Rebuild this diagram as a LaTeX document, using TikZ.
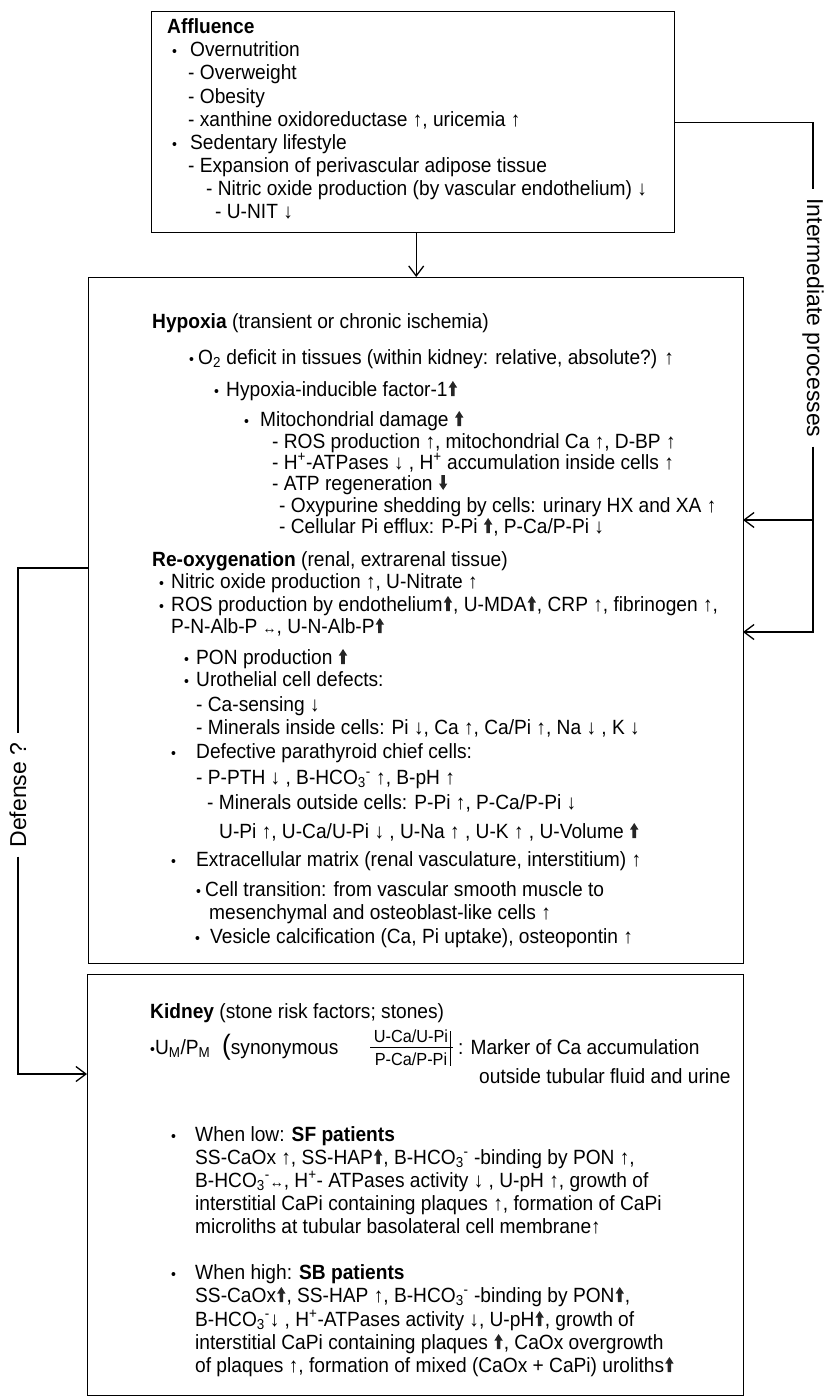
\documentclass[tikz,border=0pt]{standalone}
\usepackage{fontspec}
\setmainfont[FakeStretch=0.93]{Liberation Sans}
\newfontfamily\sidefont{Liberation Sans}
\usepackage{tikz}
\usetikzlibrary{arrows.meta,positioning}

% text sizes
\newcommand{\fs}{\fontsize{20.6}{23}\selectfont}
\newcommand{\sidefs}{\sidefont\fontsize{23}{25}\selectfont}
% small bullet with fixed gap to the text
\newcommand{\bul}{{\fontsize{15}{15}\selectfont\textbullet}}
\newcommand{\bl}[1]{\makebox[#1pt][l]{\bul}}
% thick block arrows
\newcommand{\bup}{\hspace{1pt}\tikz[x=1pt,y=1pt,baseline=0pt]{\fill[black!85] (-1.8,0) rectangle (1.8,9) (-4.2,8.5) -- (0,15) -- (4.2,8.5) -- cycle;}\hspace{1pt}}
\newcommand{\bdown}{\hspace{1pt}\tikz[x=1pt,y=1pt,baseline=0pt]{\fill[black!85] (-1.8,15) rectangle (1.8,6) (-4.2,6.5) -- (0,0) -- (4.2,6.5) -- cycle;}\hspace{1pt}}
\newcommand{\sar}{{\fontsize{15}{15}\selectfont ↔}}
\newcommand{\hco}{HCO\textsubscript{3}\textsuperscript{-}}

\begin{document}
\begin{tikzpicture}[x=1pt,y=-1pt,
    box/.style={draw, line width=1.4pt, anchor=north west, inner sep=0pt},
    txt/.style={anchor=base west, inner sep=0pt, font=\fs},
    side/.style={inner sep=9pt, font=\sidefs},
    link/.style={line width=1.3pt},
    tip/.style={-{Straight Barb[length=10pt,width=15pt]}}]

    \useasboundingbox (0,0) rectangle (824,1397);

    % Frames of the three blocks
    \node[box, minimum width=523pt, minimum height=221pt] (affl) at (151,11) {};
    \node[box, minimum width=655pt, minimum height=686pt] (hyp) at (88,277) {};
    \node[box, minimum width=656pt, minimum height=421pt] (kid) at (87,974) {};

    % Affluence block
    \foreach \lx/\ly/\lt [count=\i] in {
        167/34/{\textbf{Affluence}},
        172/57/{\bl{18}Overnutrition},
        188/80/{- Overweight},
        188/103/{- Obesity},
        188/126/{- xanthine oxidoreductase ↑, uricemia ↑},
        172/149/{\bl{18}Sedentary lifestyle},
        188/172/{- Expansion of perivascular adipose tissue},
        206/195/{- Nitric oxide production (by vascular endothelium) ↓},
        215/218/{- U-NIT ↓}}
        \node[txt] (af\i) at (\lx,\ly) {\lt};

    % Hypoxia and re-oxygenation block
    \foreach \lx/\ly/\lt [count=\i] in {
        152/328/{\textbf{Hypoxia} (transient or chronic ischemia)},
        189/364/{\bl{9}O\textsubscript{2} deficit in tissues (within kidney: relative, absolute?) ↑},
        214/396/{\bl{12}Hypoxia-inducible factor-1\bup},
        244/426/{\bl{16}Mitochondrial damage \bup},
        272/448/{- ROS production ↑, mitochondrial Ca ↑, D-BP ↑},
        272/469/{- H\textsuperscript{+}-ATPases ↓ , H\textsuperscript{+} accumulation inside cells ↑},
        272/490/{- ATP regeneration \bdown},
        279/512/{- Oxypurine shedding by cells: urinary HX and XA ↑},
        279/533/{- Cellular Pi efflux: P-Pi \bup, P-Ca/P-Pi ↓},
        152/566/{\textbf{Re-oxygenation} (renal, extrarenal tissue)},
        159/588/{\bl{12}Nitric oxide production ↑, U-Nitrate ↑},
        159/611/{\bl{12}ROS production by endothelium\bup, U-MDA\bup, CRP ↑, fibrinogen ↑,},
        171/633/{P-N-Alb-P \sar, U-N-Alb-P\bup},
        184/664/{\bl{12}PON production \bup},
        184/686/{\bl{12}Urothelial cell defects:},
        196/711/{- Ca-sensing ↓},
        196/734/{- Minerals inside cells: Pi ↓, Ca ↑, Ca/Pi ↑, Na ↓ , K ↓},
        171/758/{\bl{25}Defective parathyroid chief cells:},
        196/784/{- P-PTH ↓ , B-\hco\ ↑, B-pH ↑},
        207/809/{- Minerals outside cells: P-Pi ↑, P-Ca/P-Pi ↓},
        219/838/{U-Pi ↑, U-Ca/U-Pi ↓ , U-Na ↑ , U-K ↑ , U-Volume \bup},
        171/866/{\bl{25}Extracellular matrix (renal vasculature, interstitium) ↑},
        196/896/{\bl{9}Cell transition: from vascular smooth muscle to},
        209/919/{mesenchymal and osteoblast-like cells ↑},
        195/943/{\bl{15}Vesicle calcification (Ca, Pi uptake), osteopontin ↑}}
        \node[txt] (hy\i) at (\lx,\ly) {\lt};

    % Kidney block
    \node[txt] (kidt) at (150,1018) {\textbf{Kidney} (stone risk factors; stones)};
    \node[txt] (um) at (150,1054) {\bul U\textsubscript{M}/P\textsubscript{M}};
    \node[txt] (syn) at (222,1054) {{\fontsize{28}{28}\selectfont(}synonymous};
    \node[anchor=base, inner sep=0pt, font=\fontsize{17.5}{18}\selectfont] (num) at (411,1042) {U-Ca/U-Pi};
    \node[anchor=base, inner sep=0pt, font=\fontsize{17.5}{18}\selectfont] (den) at (411,1065) {P-Ca/P-Pi};
    \draw[line width=0.9pt] (370,1047) -- (453,1047);
    \draw[line width=0.9pt] (450,1031) -- (450,1066);
    \node[txt] (mark) at (458,1054) {: Marker of Ca accumulation};
    \node[txt] (outs) at (479,1083) {outside tubular fluid and urine};

    \foreach \lx/\ly/\lt [count=\i] in {
        171/1141/{\bl{24}When low: \textbf{SF patients}},
        195/1164/{SS-CaOx ↑, SS-HAP\bup, B-\hco\ -binding by PON ↑,},
        195/1187/{B-\hco\sar, H\textsuperscript{+}- ATPases activity ↓ , U-pH ↑, growth of},
        195/1210/{interstitial CaPi containing plaques ↑, formation of CaPi},
        195/1233/{microliths at tubular basolateral cell membrane↑},
        171/1279/{\bl{24}When high: \textbf{SB patients}},
        195/1302/{SS-CaOx\bup, SS-HAP ↑, B-\hco\ -binding by PON\bup,},
        195/1326/{B-\hco↓ , H\textsuperscript{+}-ATPases activity ↓, U-pH\bup, growth of},
        195/1349/{interstitial CaPi containing plaques \bup, CaOx overgrowth},
        195/1372/{of plaques ↑, formation of mixed (CaOx + CaPi) uroliths\bup}}
        \node[txt] (kd\i) at (\lx,\ly) {\lt};

    % Side labels
    \node[side, rotate=-90] (inter) at (813,318) {Intermediate processes};
    \node[side, rotate=90] (defn) at (18,795) {Defense ?};

    % Entry and exit points on the frames
    \coordinate (in1) at (743,520);
    \coordinate (in2) at (743,632);
    \coordinate (hypout) at (88,568);
    \coordinate (kin) at (87,1074);

    % Connectors
    \draw[link,tip] (affl.south -| hyp.north) -- (hyp.north);
    \draw[link] (affl.east) -| (inter.west);
    \draw[link,tip] (inter.east) |- (in2);
    \draw[link,tip] (inter.east |- in1) -- (in1);
    \draw[link] (hypout) -| (defn.east);
    \draw[link,tip] (defn.west) |- (kin);

\end{tikzpicture}
\end{document}
